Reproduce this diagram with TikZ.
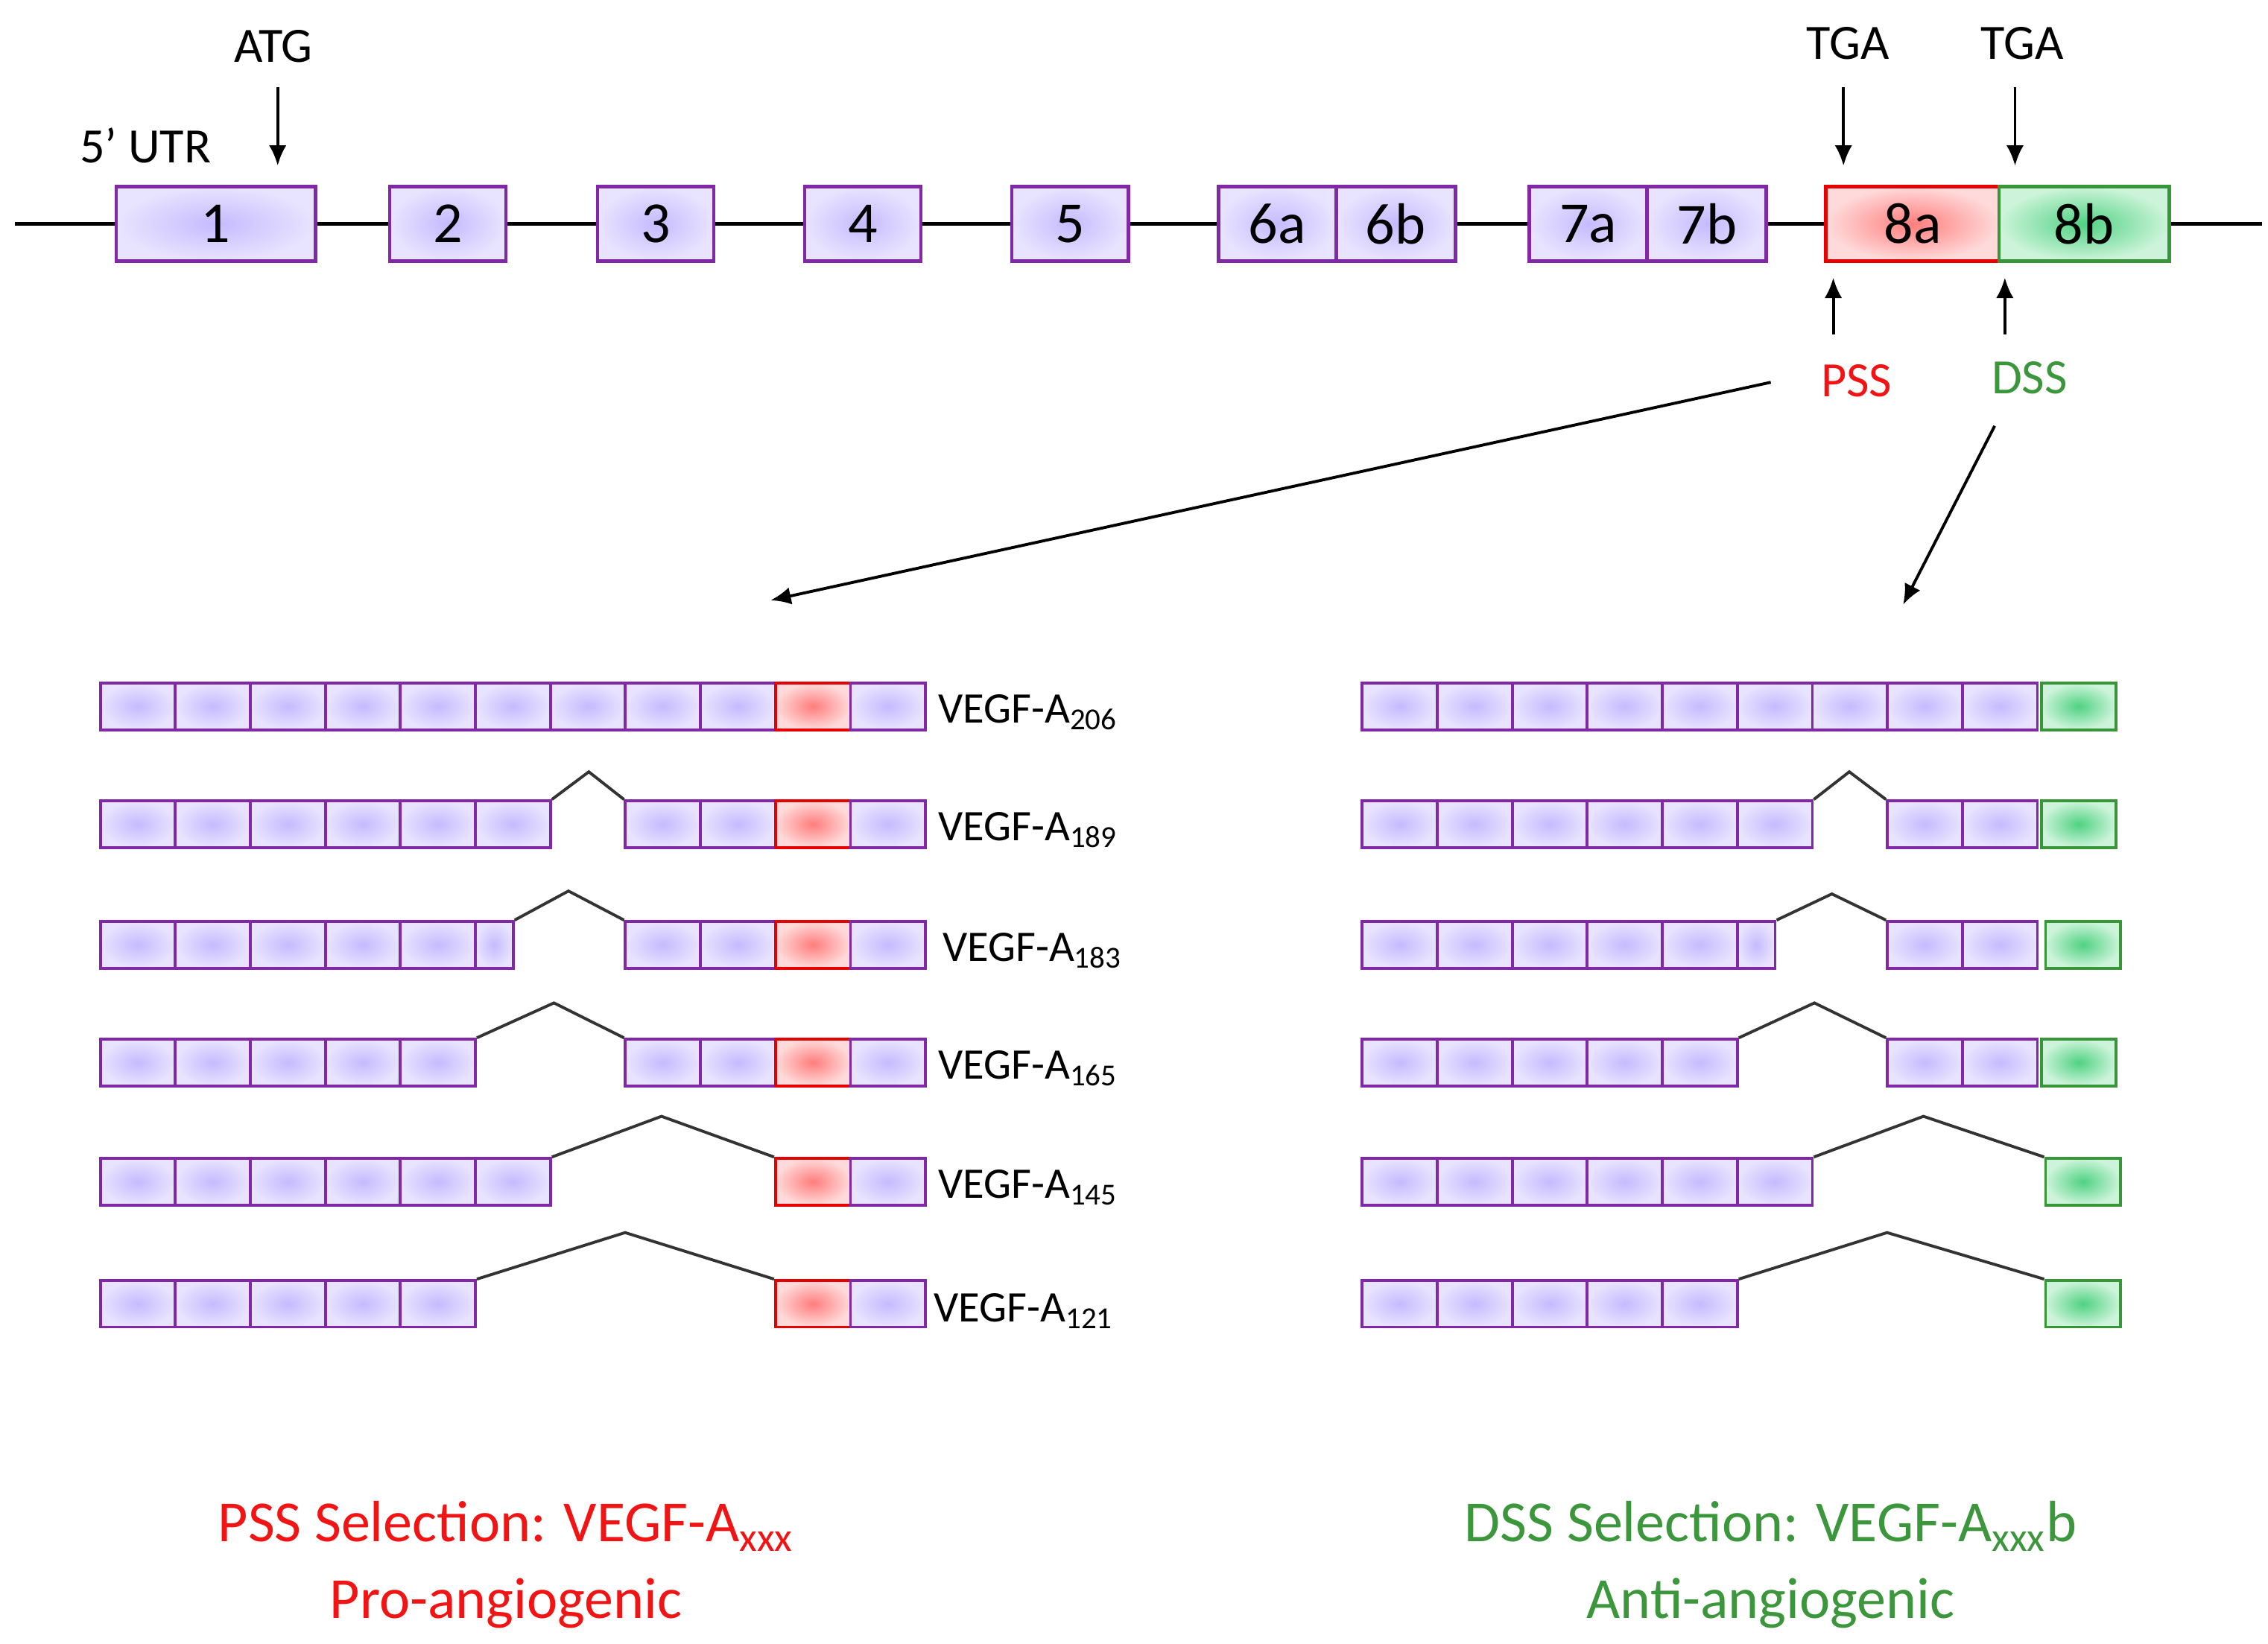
\documentclass[tikz,border=0pt]{standalone}
\usepackage{fontspec}
\setmainfont{Carlito}
\usetikzlibrary{arrows.meta}
\definecolor{pur}{RGB}{128,40,165}
\definecolor{lavin}{RGB}{198,186,255}
\definecolor{lavout}{RGB}{232,228,255}
\definecolor{rd}{RGB}{230,0,0}
\definecolor{rdin}{RGB}{255,125,125}
\definecolor{rdout}{RGB}{255,218,218}
\definecolor{gr}{RGB}{56,150,56}
\definecolor{grin}{RGB}{80,210,130}
\definecolor{grout}{RGB}{205,244,218}
\definecolor{txtred}{RGB}{240,20,20}
\definecolor{txtgr}{RGB}{60,150,60}
\tikzset{
 ex/.style={draw=pur,line width=1.2pt,rectangle,inner sep=0pt,minimum height=25.5pt,shading=radial,inner color=lavin,outer color=lavout,font=\fontsize{20}{20}\selectfont},
 exr/.style={ex,draw=rd,inner color=rdin,outer color=rdout},
 exg/.style={ex,draw=gr,inner color=grin,outer color=grout},
 p/.style={draw=pur,line width=1pt,rectangle,inner sep=0pt,minimum height=16pt,minimum width=25.8pt,anchor=west,shading=radial,inner color=lavin,outer color=lavout},
 h/.style={p,minimum width=13pt},
 r/.style={p,draw=rd,inner color=rdin,outer color=rdout},
 g/.style={p,draw=gr,inner color=grin,outer color=grout},
 lbl/.style={anchor=west,font=\fontsize{15}{15}\selectfont,inner sep=0pt},
 arr/.style={-{Latex[length=7pt,width=6pt]},line width=1pt},
 tx/.style={font=\fontsize{17}{17}\selectfont,inner sep=0pt},
 big/.style={font=\fontsize{20}{20}\selectfont,inner sep=0pt},
 spl/.style={line width=1pt,black!80},
}
\begin{document}
\begin{tikzpicture}[x=0.5pt,y=-0.5pt]
\useasboundingbox (0,0) rectangle (1560,1131);
% gene
\coordinate (ls) at (10,154); \coordinate (le) at (1556,154);
\draw[line width=1.2pt] (ls) -- (le);
\node[ex,minimum width=68.5pt] (e1) at (148.5,154) {1};
\node[ex,minimum width=40pt] (e2) at (308,154) {2};
\node[ex,minimum width=40pt] (e3) at (451,154) {3};
\node[ex,minimum width=40pt] (e4) at (593.5,154) {4};
\node[ex,minimum width=40pt] (e5) at (736,154) {5};
\node[ex,minimum width=40.5pt] (e6a) at (878.5,154) {6a};
\node[ex,minimum width=41pt] (e6b) at (960,154) {6b};
\node[ex,minimum width=40.5pt] (e7a) at (1092.5,154) {7a};
\node[ex,minimum width=41pt] (e7b) at (1174,154) {7b};
\node[exr,minimum width=59.5pt] (e8a) at (1315.5,154) {8a};
\node[exg,minimum width=58.5pt] (e8b) at (1433.5,154) {8b};
% top labels
\node[tx] (atg) at (188,32) {ATG};
\node[tx] (utr) at (100,100) {5’ UTR};
\node[tx] (tga1) at (1271,30) {TGA};
\node[tx] (tga2) at (1391,30) {TGA};
\coordinate (a1s) at (191,60); \coordinate (a1e) at (191,114);
\coordinate (a2s) at (1268,60); \coordinate (a2e) at (1268,114);
\coordinate (a3s) at (1386,60); \coordinate (a3e) at (1386,114);
\draw[arr] (a1s) -- (a1e); \draw[arr] (a2s) -- (a2e); \draw[arr] (a3s) -- (a3e);
\node[tx,text=txtred] (pss) at (1277,262) {PSS};
\node[tx,text=txtgr] (dss) at (1396,260) {DSS};
\coordinate (u1s) at (1261,230); \coordinate (u1e) at (1261,191);
\coordinate (u2s) at (1379,230); \coordinate (u2e) at (1379,191);
\draw[arr] (u1s) -- (u1e); \draw[arr] (u2s) -- (u2e);
\coordinate (b1s) at (1218,263); \coordinate (b1e) at (530,413);
\coordinate (b2s) at (1372,293); \coordinate (b2e) at (1309,416);
\draw[arr] (b1s) -- (b1e); \draw[arr] (b2s) -- (b2e);
% left transcripts
\foreach \x/\s [count=\i] in {68/p,119.6/p,171.2/p,222.8/p,274.4/p,326/p,377.6/p,429.2/p,480.8/p,532.4/r,584/p}
  \node[\s] (A\i) at (\x,486) {};
\node[lbl] (tA) at (645,490) {VEGF-A\textsubscript{206}};
\foreach \x/\s [count=\i] in {68/p,119.6/p,171.2/p,222.8/p,274.4/p,326/p,429.2/p,480.8/p,532.4/r,584/p}
  \node[\s] (B\i) at (\x,567) {};
\node[lbl] (tB) at (645,571) {VEGF-A\textsubscript{189}};
\coordinate (Bp) at (405,531);
\draw[spl] (B6.north east) -- (Bp) -- (B7.north west);
\foreach \x/\s [count=\i] in {68/p,119.6/p,171.2/p,222.8/p,274.4/p,326/h,429.2/p,480.8/p,532.4/r,584/p}
  \node[\s] (C\i) at (\x,650) {};
\node[lbl] (tC) at (648,654) {VEGF-A\textsubscript{183}};
\coordinate (Cp) at (391,613);
\draw[spl] (C6.north east) -- (Cp) -- (C7.north west);
\foreach \x/\s [count=\i] in {68/p,119.6/p,171.2/p,222.8/p,274.4/p,429.2/p,480.8/p,532.4/r,584/p}
  \node[\s] (D\i) at (\x,731) {};
\node[lbl] (tD) at (645,735) {VEGF-A\textsubscript{165}};
\coordinate (Dp) at (381,690);
\draw[spl] (D5.north east) -- (Dp) -- (D6.north west);
\foreach \x/\s [count=\i] in {68/p,119.6/p,171.2/p,222.8/p,274.4/p,326/p,532.4/r,584/p}
  \node[\s] (E\i) at (\x,813) {};
\node[lbl] (tE) at (645,817) {VEGF-A\textsubscript{145}};
\coordinate (Ep) at (455,768);
\draw[spl] (E6.north east) -- (Ep) -- (E7.north west);
\foreach \x/\s [count=\i] in {68/p,119.6/p,171.2/p,222.8/p,274.4/p,532.4/r,584/p}
  \node[\s] (F\i) at (\x,897) {};
\node[lbl] (tF) at (642,902) {VEGF-A\textsubscript{121}};
\coordinate (Fp) at (430,848);
\draw[spl] (F5.north east) -- (Fp) -- (F6.north west);
% right transcripts
\foreach \x/\s [count=\i] in {936/p,987.6/p,1039.2/p,1090.8/p,1142.4/p,1194/p,1245.6/p,1297.2/p,1348.8/p,1403/g}
  \node[\s] (G\i) at (\x,486) {};
\foreach \x/\s [count=\i] in {936/p,987.6/p,1039.2/p,1090.8/p,1142.4/p,1194/p,1297.2/p,1348.8/p,1403/g}
  \node[\s] (H\i) at (\x,567) {};
\coordinate (Hp) at (1272,531);
\draw[spl] (H6.north east) -- (Hp) -- (H7.north west);
\foreach \x/\s [count=\i] in {936/p,987.6/p,1039.2/p,1090.8/p,1142.4/p,1194/h,1297.2/p,1348.8/p,1406/g}
  \node[\s] (I\i) at (\x,650) {};
\coordinate (Ip) at (1260,615);
\draw[spl] (I6.north east) -- (Ip) -- (I7.north west);
\foreach \x/\s [count=\i] in {936/p,987.6/p,1039.2/p,1090.8/p,1142.4/p,1297.2/p,1348.8/p,1403/g}
  \node[\s] (J\i) at (\x,731) {};
\coordinate (Jp) at (1248,690);
\draw[spl] (J5.north east) -- (Jp) -- (J6.north west);
\foreach \x/\s [count=\i] in {936/p,987.6/p,1039.2/p,1090.8/p,1142.4/p,1194/p,1406/g}
  \node[\s] (K\i) at (\x,813) {};
\coordinate (Kp) at (1323,768);
\draw[spl] (K6.north east) -- (Kp) -- (K7.north west);
\foreach \x/\s [count=\i] in {936/p,987.6/p,1039.2/p,1090.8/p,1142.4/p,1406/g}
  \node[\s] (L\i) at (\x,897) {};
\coordinate (Lp) at (1298,848);
\draw[spl] (L5.north east) -- (Lp) -- (L6.north west);
% bottom
\node[big,text=txtred] (pl1) at (348,1050) {PSS Selection: VEGF-A\textsubscript{xxx}};
\node[big,text=txtred] (pl2) at (348,1103) {Pro-angiogenic};
\node[big,text=txtgr] (dl1) at (1218,1050) {DSS Selection: VEGF-A\textsubscript{xxx}b};
\node[big,text=txtgr] (dl2) at (1218,1103) {Anti-angiogenic};
\end{tikzpicture}
\end{document}
